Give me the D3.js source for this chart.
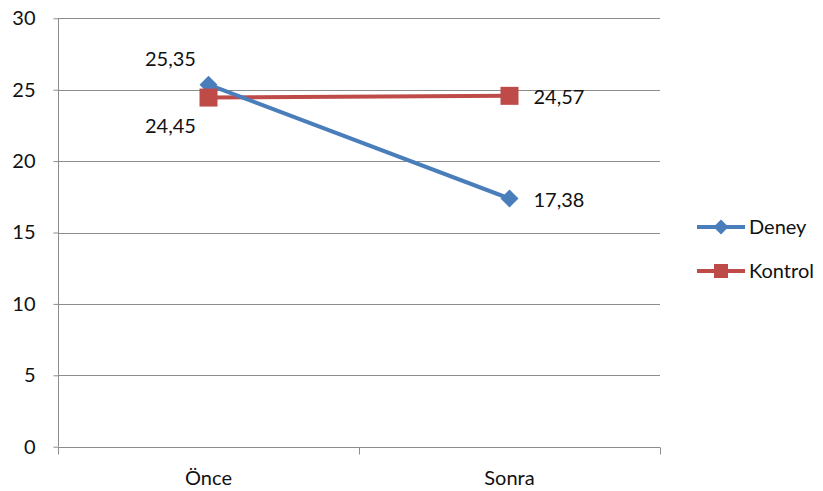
<!DOCTYPE html>
<html><head><meta charset="utf-8">
<script src="https://cdn.jsdelivr.net/npm/d3@7"></script>
<style>body{margin:0;background:#fff}svg{display:block}text{font-family:Lato,"Open Sans",sans-serif;fill:#111}</style>
</head><body><svg id="c" width="823" height="491"></svg>
<script>
const categories = ["Önce", "Sonra"];
const deney = [25.35, 17.38];
const kontrol = [24.45, 24.57];
const seriesNames = ["Deney", "Kontrol"];
const yTicks = [0, 5, 10, 15, 20, 25, 30];
const labelFmt = v => v.toFixed(2).replace(".", ",");

const svg = d3.select("#c");
const x0 = 58, x1 = 660, yTop = 18.3, yBot = 446.7;
const x = d3.scaleBand().domain(categories).range([x0, x1]);
const y = d3.scaleLinear().domain([0, 30]).range([yBot, yTop]);
const grey = "#8c8c8c";
const fs = 20;

// gridlines
svg.append("g").selectAll("line").data(yTicks.filter(t => t > 0)).join("line")
  .attr("x1", x0).attr("x2", x1).attr("y1", d => Math.round(y(d)) + 0.5).attr("y2", d => Math.round(y(d)) + 0.5)
  .attr("stroke", grey).attr("stroke-width", 1);

// y axis
const yAx = svg.append("g").attr("transform", `translate(${x0 + 0.5},0)`)
  .call(d3.axisLeft(y).tickValues(yTicks).tickSize(5).tickPadding(18).tickFormat(d => d));
yAx.select(".domain").attr("stroke", grey).attr("d", `M0,${yTop}V${yBot}`);
yAx.selectAll(".tick line").attr("stroke", grey);
yAx.selectAll(".tick text").attr("font-size", fs).style("font-family", "Lato,sans-serif").attr("fill", "#111");

// x axis
const xb = Math.round(yBot) + 0.5;
svg.append("line").attr("x1", x0).attr("x2", x1).attr("y1", xb).attr("y2", xb).attr("stroke", grey);
const bounds = [x0, x0 + x.bandwidth(), x1];
svg.append("g").selectAll("line").data(bounds).join("line")
  .attr("x1", d => Math.round(d) + 0.5).attr("x2", d => Math.round(d) + 0.5)
  .attr("y1", xb).attr("y2", xb + 7).attr("stroke", grey);
svg.append("g").selectAll("text").data(categories).join("text")
  .attr("x", d => x(d) + x.bandwidth() / 2).attr("y", 485)
  .attr("text-anchor", "middle").attr("font-size", fs).text(d => d);

const cx = d => x(d) + x.bandwidth() / 2;
const line = d3.line().x(d => cx(d.c)).y(d => y(d.v));
const series = [
  {name: seriesNames[0], vals: deney, color: "#4a7ebb", marker: "diamond"},
  {name: seriesNames[1], vals: kontrol, color: "#be4b48", marker: "square"}
];
const markerPath = (m) => m === "diamond" ? "M0,-9L9,0L0,9L-9,0Z" : "M-9,-9H9V9H-9Z";

const order = [series[1], series[0]];
order.forEach(s => {
  const pts = s.vals.map((v, i) => ({c: categories[i], v}));
  svg.append("path").attr("d", line(pts)).attr("fill", "none").attr("stroke", s.color).attr("stroke-width", 4);
});
series.forEach(s => {
  s.vals.forEach((v, i) => {
    svg.append("path").attr("d", markerPath(s.marker))
      .attr("transform", `translate(${cx(categories[i])},${y(v)})`).attr("fill", s.color);
  });
});

// data labels
const labelPos = [
  [ {dx: -38, dy: -19, anchor: "middle"}, {dx: 24, dy: 8, anchor: "start"} ],
  [ {dx: -38, dy: 35, anchor: "middle"}, {dx: 24, dy: 8, anchor: "start"} ]
];
series.forEach((s, si) => {
  s.vals.forEach((v, i) => {
    const p = labelPos[si][i];
    svg.append("text").attr("x", cx(categories[i]) + p.dx).attr("y", y(v) + p.dy)
      .attr("text-anchor", p.anchor).attr("font-size", fs).text(labelFmt(v));
  });
});

// legend
const legY = [227, 271];
series.forEach((s, i) => {
  const g = svg.append("g").attr("transform", `translate(697,${legY[i]})`);
  g.append("line").attr("x1", 0).attr("x2", 48).attr("stroke", s.color).attr("stroke-width", 4);
  g.append("path").attr("d", s.marker === "diamond" ? "M0,-7.5L7.5,0L0,7.5L-7.5,0Z" : "M-7,-7H7V7H-7Z")
    .attr("transform", "translate(24,0)").attr("fill", s.color);
  g.append("text").attr("x", 52).attr("y", 7).attr("font-size", fs).text(s.name);
});
</script></body></html>
